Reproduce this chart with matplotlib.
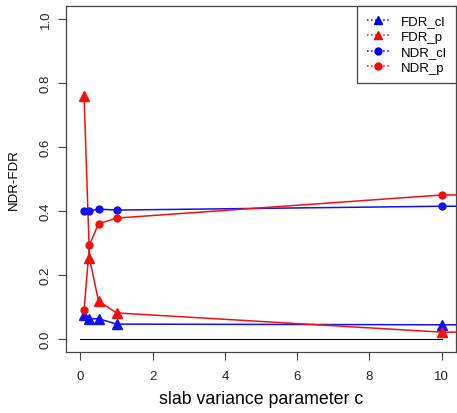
import matplotlib
matplotlib.use("Agg")
import matplotlib.pyplot as plt
from matplotlib.lines import Line2D

plt.rcParams['font.family'] = ['Liberation Sans', 'DejaVu Sans']

# slab variance parameter c (last point lies past the visible range)
c = [0.1, 0.25, 0.5, 1, 10, 20]
fdr_cl = [0.075, 0.063, 0.064, 0.047, 0.045, 0.044]
fdr_p = [0.76, 0.253, 0.119, 0.082, 0.022, 0.018]
ndr_cl = [0.40, 0.40, 0.406, 0.403, 0.415, 0.416]
ndr_p = [0.09, 0.294, 0.36, 0.378, 0.45, 0.46]

zero_x = [0, 10]
zero_y = [0, 0]

fig = plt.figure(figsize=(4.57, 4.14), dpi=100)
ax = fig.add_axes([66/457, 1-353/414, 390/457, 346/414])

ax.plot(zero_x, zero_y, color="black", lw=0.8)
ax.plot(c, fdr_cl, color="#1010f0", lw=1.1, marker="^", ms=7)
ax.plot(c, fdr_p, color="#f01010", lw=1.1, marker="^", ms=7)
ax.plot(c, ndr_cl, color="#1010f0", lw=1.1, marker="o", ms=5)
ax.plot(c, ndr_p, color="#f01010", lw=1.1, marker="o", ms=5)

ax.set_xlim(-0.4, 10.4)
ax.set_ylim(-0.04, 1.04)
ax.set_xticks([0, 2, 4, 6, 8, 10])
ax.set_yticks([0, 0.2, 0.4, 0.6, 0.8, 1.0])
ax.set_yticklabels(["0.0", "0.2", "0.4", "0.6", "0.8", "1.0"], rotation=90, va="center")
ax.tick_params(length=5.8, width=0.8, color="#444444", labelsize=9.5, labelcolor="#222222")
ax.tick_params(axis="x", pad=7)
ax.tick_params(axis="y", pad=4.5)
for s in ax.spines.values():
    s.set_color("#444444")
    s.set_linewidth(0.9)

ax.set_xlabel("slab variance parameter c", fontsize=12.8, labelpad=6)
ax.set_ylabel("NDR-FDR", fontsize=9.5, labelpad=14)

handles = [
    Line2D([], [], color="#0000ff", ls=":", lw=1.1, marker="^", ms=6),
    Line2D([], [], color="#ff0000", ls=":", lw=1.1, marker="^", ms=6),
    Line2D([], [], color="#0000ff", ls=":", lw=1.1, marker="o", ms=5),
    Line2D([], [], color="#ff0000", ls=":", lw=1.1, marker="o", ms=5),
]
leg = ax.legend(handles, ["FDR_cl", "FDR_p", "NDR_cl", "NDR_p"], loc="upper right",
                fontsize=9.5, frameon=True, fancybox=False, framealpha=1,
                borderaxespad=0, handlelength=1.7, labelspacing=0.25,
                borderpad=0.7, handletextpad=0.9)
leg.get_frame().set_edgecolor("#444444")
leg.get_frame().set_linewidth(0.9)

fig.savefig("out.png", dpi=100)
